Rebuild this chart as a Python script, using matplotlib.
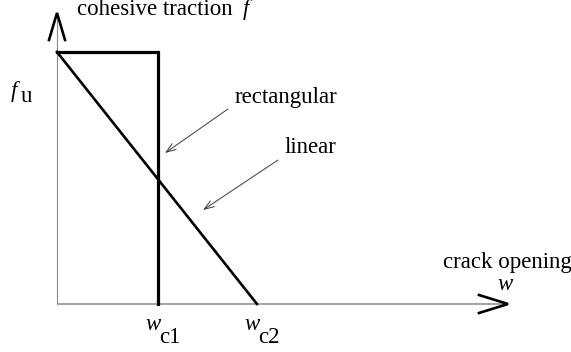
import matplotlib
matplotlib.use("Agg")
import matplotlib.pyplot as plt

plt.rcParams['font.family'] = ['Liberation Serif', 'DejaVu Serif']

# cohesive laws (normalised)
f_u = 1.0
w_c1 = 1.0
w_c2 = 1.98

rect_w = [0.0, w_c1, w_c1]
rect_f = [f_u, f_u, 0.0]
lin_w = [0.0, w_c2]
lin_f = [f_u, 0.0]

x_end = 4.465
y_end = 1.155

# pixel layout: origin at (57, 304), 101 px per unit in w, 252 px per unit in f
X0, Y0, SX, SY = 57, 304, 101.0, 252.0


def P(px, py):
    return (px - X0) / SX, (Y0 - py) / SY


fig = plt.figure(figsize=(5.71, 3.52), dpi=100)
ax = fig.add_axes([0, 0, 1, 1])
ax.set_xlim(-X0 / SX, (571 - X0) / SX)
ax.set_ylim((Y0 - 352) / SY, Y0 / SY)
ax.axis('off')

# axes lines
ax.plot([0, x_end], [0, 0], color='#a6a6a6', lw=1.5, solid_capstyle='butt')
ax.plot([0, 0], [0, y_end], color='#8a8a8a', lw=0.8, solid_capstyle='butt')

# open chevron heads
ax.plot([x_end - 29 / SX, x_end, x_end - 29 / SX], [9 / SY, 0, -9 / SY],
        color='black', lw=1.9, solid_joinstyle='miter')
ax.plot([-8 / SX, 0, 8 / SX], [y_end - 27 / SY, y_end, y_end - 27 / SY],
        color='black', lw=1.9, solid_joinstyle='miter')

# laws
ax.plot(rect_w, rect_f, color='black', lw=2.3, solid_joinstyle='miter')
ax.plot(lin_w, lin_f, color='black', lw=1.9)

fs = 16.5
ax.text(*P(77, 15), 'cohesive traction', fontsize=fs, va='baseline', ha='left')
ax.text(*P(243, 15), 'f', fontsize=fs, style='italic', va='baseline', ha='left')

ax.text(*P(11, 97), 'f', fontsize=fs, style='italic', va='baseline', ha='left')
ax.text(*P(21, 102), 'u', fontsize=fs, va='baseline', ha='left')

ax.text(*P(507, 268), 'crack opening', fontsize=fs, va='baseline', ha='center')
ax.text(*P(505, 290), 'w', fontsize=fs, style='italic', va='baseline', ha='center')

for wc, lab in [(w_c1, 'c1'), (w_c2, 'c2')]:
    xp = X0 + wc * SX
    ax.text(*P(xp - 13, 330), 'w', fontsize=fs, style='italic', va='baseline', ha='left')
    ax.text(*P(xp + 1, 343), lab, fontsize=fs, va='baseline', ha='left')

arrow = dict(arrowstyle='->,head_length=0.7,head_width=0.25', lw=0.7, color='#3a3a3a',
             shrinkA=0, shrinkB=0)
ax.text(*P(235, 103), 'rectangular', fontsize=fs, va='baseline', ha='left')
ax.annotate('', xy=P(165, 153), xytext=P(228, 109), arrowprops=arrow)
ax.text(*P(285, 153), 'linear', fontsize=fs, va='baseline', ha='left')
ax.annotate('', xy=P(203, 210), xytext=P(278, 160), arrowprops=arrow)

fig.savefig('out.png', dpi=100)
